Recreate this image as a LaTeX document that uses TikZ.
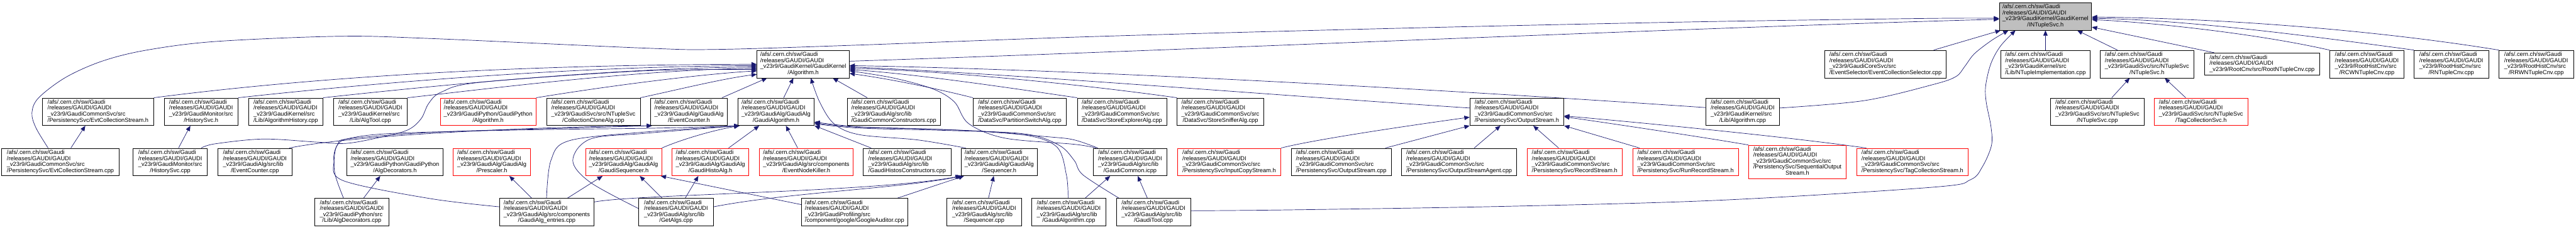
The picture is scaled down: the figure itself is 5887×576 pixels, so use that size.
\documentclass[tikz,border=0pt]{standalone}
\usepackage{fontspec}
\setmainfont{Liberation Sans}
\usetikzlibrary{arrows.meta}
\definecolor{edgec}{RGB}{25,25,112}
\definecolor{nodegray}{RGB}{191,191,191}
\pgfdeclarelayer{bg}
\pgfsetlayers{bg,main}
\newcommand{\lline}[1]{\multicolumn{1}{@{}l@{}}{#1}\\}
\newcommand{\gpre}{\lline{/afs/.cern.ch/sw/Gaudi}\lline{/releases/GAUDI/GAUDI}}
\newcommand{\lab}[1]{\begin{tabular}{@{}c@{}}#1\end{tabular}}
\begin{document}
\begin{tikzpicture}[x=0.75pt,y=-0.75pt,
  box/.style={draw=black, line width=0.75pt, fill=white, inner sep=0pt,
    font=\fontsize{10}{10}\selectfont, minimum height=47.25pt},
  redb/.style={box, draw=red},
  bw/.style={minimum width=#1*0.75pt},
  bh/.style={minimum height=#1*0.75pt},
  edg/.style={draw=edgec, line width=0.75pt, -{Triangle[length=9pt,width=7.5pt]}}]
\useasboundingbox (0,0) rectangle (5887,576);

% row 0
\node[box,bw=211,fill=nodegray] (N0) at (4674.5,37.5) {\lab{\gpre\lline{\_v23r9/GaudiKernel/GaudiKernel}/INTupleSvc.h}};

% row 1
\node[box,bw=211] (AlgH) at (1835.5,146.5) {\lab{\gpre\lline{\_v23r9/GaudiKernel/GaudiKernel}/Algorithm.h}};
\node[box,bw=278] (ECS) at (4309,146.5) {\lab{\gpre\lline{\_v23r9/GaudiCoreSvc/src}/EventSelector/EventCollectionSelector.cpp}};
\node[box,bw=203] (NTI) at (4674.5,146.5) {\lab{\gpre\lline{\_v23r9/GaudiKernel/src}/Lib/NTupleImplementation.cpp}};
\node[box,bw=213] (NSH) at (4906.5,146.5) {\lab{\gpre\lline{\_v23r9/GaudiSvc/src/NTupleSvc}/NTupleSvc.h}};
\node[box,bw=263,bh=50] (RNC) at (5169.5,146) {\lab{\gpre \_v23r9/RootCnv/src/RootNTupleCnv.cpp}};
\node[box,bw=170] (RCW) at (5409,146.5) {\lab{\gpre\lline{\_v23r9/RootHistCnv/src}/RCWNTupleCnv.cpp}};
\node[box,bw=170] (RNT) at (5602,146.5) {\lab{\gpre\lline{\_v23r9/RootHistCnv/src}/RNTupleCnv.cpp}};
\node[box,bw=170] (RRW) at (5796,146.5) {\lab{\gpre\lline{\_v23r9/RootHistCnv/src}/RRWNTupleCnv.cpp}};

% row 2
\node[box,bw=254] (ECSh) at (224,255.5) {\lab{\gpre\lline{\_v23r9/GaudiCommonSvc/src}/PersistencySvc/EvtCollectionStream.h}};
\node[box,bw=169] (HSh) at (459.5,255.5) {\lab{\gpre\lline{\_v23r9/GaudiMonitor/src}/HistorySvc.h}};
\node[box,bw=170] (AHc) at (653,255.5) {\lab{\gpre\lline{\_v23r9/GaudiKernel/src}/Lib/AlgorithmHistory.cpp}};
\node[box,bw=169] (ATc) at (846.5,255.5) {\lab{\gpre\lline{\_v23r9/GaudiKernel/src}/Lib/AlgTool.cpp}};
\node[redb,bw=219] (GPA) at (1115.5,255.5) {\lab{\gpre\lline{\_v23r9/GaudiPython/GaudiPython}/Algorithm.h}};
\node[box,bw=214] (CCA) at (1356,255.5) {\lab{\gpre\lline{\_v23r9/GaudiSvc/src/NTupleSvc}/CollectionCloneAlg.cpp}};
\node[box,bw=175] (ECh) at (1574.5,255.5) {\lab{\gpre\lline{\_v23r9/GaudiAlg/GaudiAlg}/EventCounter.h}};
\node[box,bw=175] (GAh) at (1773.5,255.5) {\lab{\gpre\lline{\_v23r9/GaudiAlg/GaudiAlg}/GaudiAlgorithm.h}};
\node[box,bw=213] (GCC) at (2042.5,255.5) {\lab{\gpre\lline{\_v23r9/GaudiAlg/src/lib}/GaudiCommonConstructors.cpp}};
\node[box,bw=213] (PSA) at (2330.5,255.5) {\lab{\gpre\lline{\_v23r9/GaudiCommonSvc/src}/DataSvc/PartitionSwitchAlg.cpp}};
\node[box,bw=204] (SEA) at (2564,255.5) {\lab{\gpre\lline{\_v23r9/GaudiCommonSvc/src}/DataSvc/StoreExplorerAlg.cpp}};
\node[box,bw=198] (SSA) at (2789,255.5) {\lab{\gpre\lline{\_v23r9/GaudiCommonSvc/src}/DataSvc/StoreSnifferAlg.cpp}};
\node[box,bw=215] (OSh) at (3466.5,255.5) {\lab{\gpre\lline{\_v23r9/GaudiCommonSvc/src}/PersistencySvc/OutputStream.h}};
\node[box,bw=169] (ALc) at (3982.5,255.5) {\lab{\gpre\lline{\_v23r9/GaudiKernel/src}/Lib/Algorithm.cpp}};
\node[box,bw=214] (NSc) at (4793,255.5) {\lab{\gpre\lline{\_v23r9/GaudiSvc/src/NTupleSvc}/NTupleSvc.cpp}};
\node[redb,bw=214] (TCS) at (5030,255.5) {\lab{\gpre\lline{\_v23r9/GaudiSvc/src/NTupleSvc}/TagCollectionSvc.h}};

% row 3
\node[box,bw=268] (ECc) at (138,370.5) {\lab{\gpre\lline{\_v23r9/GaudiCommonSvc/src}/PersistencySvc/EvtCollectionStream.cpp}};
\node[box,bw=170] (HSc) at (389,370.5) {\lab{\gpre\lline{\_v23r9/GaudiMonitor/src}/HistorySvc.cpp}};
\node[box,bw=169] (ECcpp) at (582.5,370.5) {\lab{\gpre\lline{\_v23r9/GaudiAlg/src/lib}/EventCounter.cpp}};
\node[box,bw=219] (ADh) at (902.5,370.5) {\lab{\gpre\lline{\_v23r9/GaudiPython/GaudiPython}/AlgDecorators.h}};
\node[redb,bw=176] (PSh) at (1124,370.5) {\lab{\gpre\lline{\_v23r9/GaudiAlg/GaudiAlg}/Prescaler.h}};
\node[redb,bw=174] (GSh) at (1425,370.5) {\lab{\gpre\lline{\_v23r9/GaudiAlg/GaudiAlg}/GaudiSequencer.h}};
\node[redb,bw=175] (GHA) at (1623.5,370.5) {\lab{\gpre\lline{\_v23r9/GaudiAlg/GaudiAlg}/GaudiHistoAlg.h}};
\node[redb,bw=215] (ENK) at (1842.5,370.5) {\lab{\gpre\lline{\_v23r9/GaudiAlg/src/components}/EventNodeKiller.h}};
\node[box,bw=200] (GHC) at (2073,370.5) {\lab{\gpre\lline{\_v23r9/GaudiAlg/src/lib}/GaudiHistosConstructors.cpp}};
\node[box,bw=175] (SQh) at (2283.5,370.5) {\lab{\gpre\lline{\_v23r9/GaudiAlg/GaudiAlg}/Sequencer.h}};
\node[box,bw=169] (GCi) at (2582.5,370.5) {\lab{\gpre\lline{\_v23r9/GaudiAlg/src/lib}/GaudiCommon.icpp}};
\node[redb,bw=236] (ICS) at (2809,370.5) {\lab{\gpre\lline{\_v23r9/GaudiCommonSvc/src}/PersistencySvc/InputCopyStream.h}};
\node[box,bw=228] (OSc) at (3065,370.5) {\lab{\gpre\lline{\_v23r9/GaudiCommonSvc/src}/PersistencySvc/OutputStream.cpp}};
\node[box,bw=263] (OSA) at (3334.5,370.5) {\lab{\gpre\lline{\_v23r9/GaudiCommonSvc/src}/PersistencySvc/OutputStreamAgent.cpp}};
\node[redb,bw=217] (RSh) at (3598.5,370.5) {\lab{\gpre\lline{\_v23r9/GaudiCommonSvc/src}/PersistencySvc/RecordStream.h}};
\node[redb,bw=242] (RRS) at (3852,370.5) {\lab{\gpre\lline{\_v23r9/GaudiCommonSvc/src}/PersistencySvc/RunRecordStream.h}};
\node[redb,bw=223,bh=76] (SOS) at (4107.5,370) {\lab{\gpre\lline{\_v23r9/GaudiCommonSvc/src}\lline{/PersistencySvc/SequentialOutput}Stream.h}};
\node[redb,bw=255] (TCSt) at (4370.5,370.5) {\lab{\gpre\lline{\_v23r9/GaudiCommonSvc/src}/PersistencySvc/TagCollectionStream.h}};

% row 4
\node[box,bw=170] (ADc) at (804,485) {\lab{\gpre\lline{\_v23r9/GaudiPython/src}/Lib/AlgDecorators.cpp}};
\node[box,bw=215] (GAE) at (1249.5,485) {\lab{\gpre\lline{\_v23r9/GaudiAlg/src/components}/GaudiAlg\_entries.cpp}};
\node[box,bw=170] (GAl) at (1545,485) {\lab{\gpre\lline{\_v23r9/GaudiAlg/src/lib}/GetAlgs.cpp}};
\node[box,bw=242] (GGA) at (1953,485) {\lab{\gpre\lline{\_v23r9/GaudiProfiling/src}/component/google/GoogleAuditor.cpp}};
\node[box,bw=170] (SQc) at (2249,485) {\lab{\gpre\lline{\_v23r9/GaudiAlg/src/lib}/Sequencer.cpp}};
\node[box,bw=169] (GAc) at (2442.5,485) {\lab{\gpre\lline{\_v23r9/GaudiAlg/src/lib}/GaudiAlgorithm.cpp}};
\node[box,bw=170] (GTc) at (2636,485) {\lab{\gpre\lline{\_v23r9/GaudiAlg/src/lib}/GaudiTool.cpp}};

\begin{pgfonlayer}{bg}
\fill[white] (0,0) rectangle (5887,576);
% into INTupleSvc.h
\draw[edg] plot[smooth,tension=0.55] coordinates {(110,0 |- ECc.north) (82,292) (73,258) (88,224) (150,177) (233,140) (333,115) (491,95) (774,83) (982,88) (1473,110) (1640,113) (1964,103) (2455,85) (2946,71) (3437,59) (3928,49) (4419,42) (N0.west |- 0,42)};
\draw[edg] (AlgH.east |- 0,140) .. controls (2700,115) and (3900,62) .. (N0.west |- 0,44);
\draw[edg] (4419,0 |- ECS.north) -- (4572,0 |- N0.south);
\draw[edg] plot[smooth,tension=0.55] coordinates {(ALc.east |- 0,247) (4261,230) (4419,193) (4470,175) (4490,152) (4512,123) (4552,92) (4590,0 |- N0.south)};
\draw[edg] plot[smooth,tension=0.55] coordinates {(GTc.east |- 0,482) (2946,480) (3437,472) (3928,458) (4419,428) (4503,411) (4530,382) (4551,333) (4550,290) (4539,233) (4538,195) (4550,145) (4572,105) (4606,0 |- N0.south)};
\draw[edg] (NTI.north) -- (N0.south);
\draw[edg] (4839,0 |- NSH.north) -- (4747,0 |- N0.south);
\draw[edg] (5060,0 |- RNC.north) -- (N0.east |- 0,62);
\draw[edg] (RCW.north west) .. controls (5150,75) and (4900,50) .. (N0.east |- 0,45);
\draw[edg] (RNT.north west) .. controls (5300,85) and (5000,45) .. (N0.east |- 0,42);
\draw[edg] (RRW.north west) .. controls (5450,72) and (5100,42) .. (N0.east |- 0,39);
% into NTupleSvc.h
\draw[edg] (4826,0 |- NSc.north) -- (4867,0 |- NSH.south);
\draw[edg] (4995,0 |- TCS.north) -- (4947,0 |- NSH.south);
% into Algorithm.h, from the left
\draw[edg] (ECSh.north east) .. controls (650,185) and (1100,148) .. (AlgH.west |- 0,147);
\draw[edg] (HSh.north east) .. controls (850,190) and (1300,152) .. (AlgH.west |- 0,150);
\draw[edg] (AHc.north east) .. controls (1000,195) and (1400,156) .. (AlgH.west |- 0,153);
\draw[edg] (ATc.north east) .. controls (1100,205) and (1450,160) .. (AlgH.west |- 0,156);
\draw[edg] plot[smooth,tension=0.55] coordinates {(460,0 |- HSc.north) (491,329) (601,318) (724,325) (790,328) (860,316) (930,298) (962,272) (980,236) (1010,210) (1100,188) (1473,162) (AlgH.west |- 0,159)};
\draw[edg] (GPA.north east) .. controls (1400,195) and (1600,170) .. (AlgH.west |- 0,162);
\draw[edg] (CCA.north east) .. controls (1550,205) and (1650,180) .. (AlgH.west |- 0,170);
% into Algorithm.h, from below
\draw[edg] (1650,0 |- ECh.north) -- (1753,0 |- AlgH.south);
\draw[edg] (1791,0 |- GAh.north) -- (1813,0 |- AlgH.south);
\draw[edg] plot[smooth,tension=0.55] coordinates {(2207,0 |- SQh.north) (2097,320) (1964,308) (1906,283) (1873,233) (1853,0 |- AlgH.south)};
\draw[edg] (1982,0 |- GCC.north) -- (1903,0 |- AlgH.south);
% into Algorithm.h, from the right
\draw[edg] (ALc.west |- 0,246) .. controls (3300,205) and (2500,160) .. (AlgH.east |- 0,150);
\draw[edg] (OSh.west |- 0,247) .. controls (2900,217) and (2300,168) .. (AlgH.east |- 0,153);
\draw[edg] (SSA.north west) .. controls (2450,190) and (2150,162) .. (AlgH.east |- 0,156);
\draw[edg] (SEA.north west) .. controls (2300,200) and (2100,170) .. (AlgH.east |- 0,159);
\draw[edg] (PSA.north west) .. controls (2130,200) and (2030,180) .. (AlgH.east |- 0,168);
\draw[edg] plot[smooth,tension=0.55] coordinates {(2505,0 |- GCi.north) (2455,330) (2297,316) (2214,283) (2181,233) (2131,203) (2040,178) (AlgH.east |- 0,162)};
% into GaudiAlgorithm.h
\draw[edg] (1665,0 |- GHA.north) -- (1735,0 |- GAh.south);
\draw[edg] (1823,0 |- ENK.north) -- (1796,0 |- GAh.south);
\draw[edg] (GSh.north east) .. controls (1560,318) and (1630,298) .. (1690,0 |- GAh.south);
\draw[edg] (1991,0 |- GHC.north) -- (GAh.south east);
\draw[edg] plot[smooth,tension=0.55] coordinates {(2441,0 |- GAc.north) (2437,400) (2414,335) (2331,307) (2150,296) (1964,290) (GAh.east |- 0,279)};
\draw[edg] plot[smooth,tension=0.55] coordinates {(2509,0 |- GCi.north) (2455,320) (2397,313) (2200,298) (1964,291) (GAh.east |- 0,281)};
\draw[edg] plot[smooth,tension=0.55] coordinates {(2557,0 |- GTc.north) (2475,400) (2455,367) (2420,332) (2340,306) (2150,298) (1964,293) (GAh.east |- 0,283)};
\draw[edg] plot[smooth,tension=0.55] coordinates {(785,0 |- ADc.north) (766,400) (764,360) (772,330) (800,316) (900,305) (1200,297) (1500,293) (1690,0 |- GAh.south)};
\draw[edg] plot[smooth,tension=0.55] coordinates {(1249,0 |- GAE.north) (1259,367) (1300,322) (1473,302) (1690,0 |- GAh.south)};
\draw[edg] plot[smooth,tension=0.55] coordinates {(GAl.west |- 0,477) (1349,417) (1309,367) (1349,318) (1473,305) (1690,0 |- GAh.south)};
% into EventCounter.h
\draw[edg] (661,0 |- ECcpp.north) .. controls (800,310) and (1200,290) .. (1490,0 |- ECh.south);
\draw[edg] plot[smooth,tension=0.55] coordinates {(GAE.west |- 0,473) (982,454) (784,413) (763,367) (772,330) (800,317) (1000,302) (1300,293) (1490,0 |- ECh.south)};
% row 3 -> row 2 and row 4 -> row 3
\draw[edg] (162,0 |- ECc.north) -- (195,0 |- ECSh.south);
\draw[edg] (408,0 |- HSc.north) -- (435,0 |- HSh.south);
\draw[edg] (831,0 |- ADc.north) -- (869,0 |- ADh.south);
\draw[edg] (1215,0 |- GAE.north) -- (1164,0 |- PSh.south);
\draw[edg] (1297,0 |- GAE.north) -- (1377,0 |- GSh.south);
\draw[edg] (1513,0 |- GAl.north) -- (1462,0 |- GSh.south);
\draw[edg] (GGA.west |- 0,468) -- (1510,0 |- GSh.south);
\draw[edg] (1566,0 |- GAl.north) -- (1596,0 |- GHA.south);
\draw[edg] (GAE.east |- 0,462) .. controls (1450,444) and (2000,440) .. (SQh.south west);
\draw[edg] (GAl.east |- 0,473) .. controls (1800,440) and (2050,432) .. (2199,0 |- SQh.south);
\draw[edg] (2051,0 |- GGA.north) -- (2203,0 |- SQh.south);
\draw[edg] (2259,0 |- SQc.north) -- (2271,0 |- SQh.south);
\draw[edg] (2480,0 |- GAc.north) -- (2537,0 |- GCi.south);
\draw[edg] (2622,0 |- GTc.north) -- (2600,0 |- GCi.south);
% into OutputStream.h
\draw[edg] (3166,0 |- OSc.north) -- (OSh.south west);
\draw[edg] (3369,0 |- OSA.north) -- (3429,0 |- OSh.south);
\draw[edg] (3562,0 |- RSh.north) -- (3504,0 |- OSh.south);
\draw[edg] (3747,0 |- RRS.north) -- (OSh.south east);
\draw[edg] (SOS.north west) .. controls (3900,315) and (3700,285) .. (OSh.east |- 0,267);
\draw[edg] (4265,0 |- TCSt.north) .. controls (4100,315) and (3800,285) .. (OSh.east |- 0,265);
\draw[edg] (ICS.north east) .. controls (3000,320) and (3200,290) .. (OSh.west |- 0,268);
\end{pgfonlayer}
\end{tikzpicture}
\end{document}
